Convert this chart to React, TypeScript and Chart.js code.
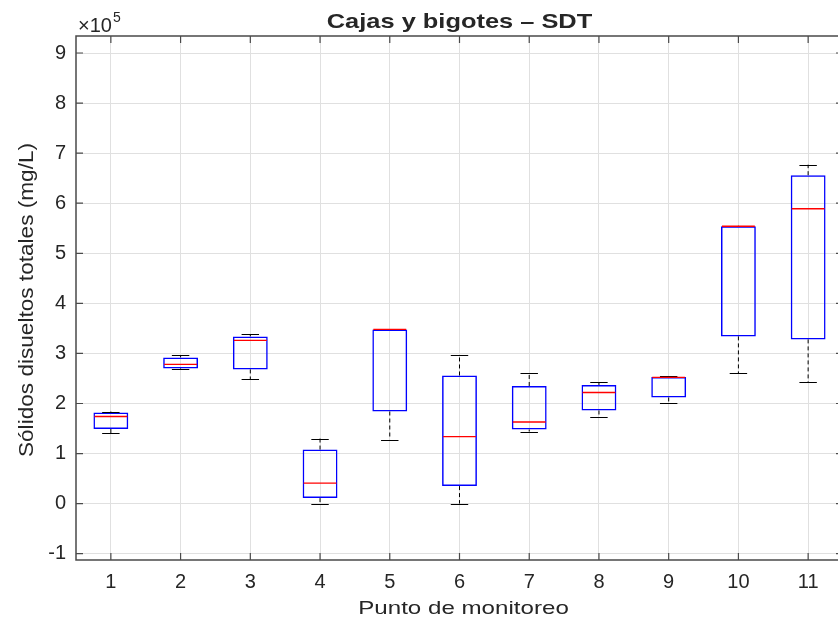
import React, { useEffect, useRef } from 'react';
import { Chart, registerables } from 'chart.js';

Chart.register(...registerables);

// ---- Data (values in units of 10^5 mg/L) ----
const categories = ['1', '2', '3', '4', '5', '6', '7', '8', '9', '10', '11'];
const q1 = [1.49, 2.70, 2.68, 0.11, 1.84, 0.35, 1.48, 1.86, 2.12, 3.34, 3.28];
const q3 = [1.82, 2.92, 3.34, 1.08, 3.48, 2.56, 2.35, 2.37, 2.53, 5.54, 6.56];
const medians = [1.74, 2.78, 3.26, 0.41, 3.48, 1.34, 1.63, 2.22, 2.52, 5.54, 5.89];
const whiskerLow = [1.41, 2.68, 2.48, 0.0, 1.28, 0.0, 1.44, 1.74, 2.0, 2.6, 2.42];
const whiskerHigh = [1.84, 2.96, 3.38, 1.3, 3.48, 2.96, 2.6, 2.42, 2.54, 5.55, 6.77];
const yTicks = [-1, 0, 1, 2, 3, 4, 5, 6, 7, 8, 9];

const titleText = 'Cajas y bigotes – SDT';
const xLabel = 'Punto de monitoreo';
const yLabel = 'Sólidos disueltos totales (mg/L)';

const FONT = '"Liberation Sans", Arial, Helvetica, sans-serif';
const TEXT = '#262626';

function stretchedText(ctx: any, text: string, x: number, y: number, font: string, sx: number) {
  ctx.save();
  ctx.font = font;
  ctx.textAlign = 'center';
  ctx.translate(x, y);
  ctx.scale(sx, 1);
  ctx.fillText(text, 0, 0);
  ctx.restore();
}

const extrasPlugin = {
  id: 'boxExtras',
  beforeDraw(chart: any) {
    const { ctx, width, height } = chart;
    ctx.save();
    ctx.fillStyle = '#ffffff';
    ctx.fillRect(0, 0, width, height);
    ctx.restore();
  },
  afterDatasetsDraw(chart: any) {
    const { ctx, chartArea } = chart;
    const x = chart.scales.x;
    const y = chart.scales.y;
    const step = x.getPixelForValue(1) - x.getPixelForValue(0);
    ctx.save();
    categories.forEach((_, i) => {
      const cx = x.getPixelForValue(i);
      const boxHalf = step * 0.25;
      const capHalf = step * 0.125;
      // dashed whiskers
      ctx.strokeStyle = '#000000';
      ctx.lineWidth = 1;
      ctx.setLineDash([4, 3]);
      ctx.beginPath();
      ctx.moveTo(cx, y.getPixelForValue(q3[i]));
      ctx.lineTo(cx, y.getPixelForValue(whiskerHigh[i]));
      ctx.moveTo(cx, y.getPixelForValue(q1[i]));
      ctx.lineTo(cx, y.getPixelForValue(whiskerLow[i]));
      ctx.stroke();
      ctx.setLineDash([]);
      // caps
      ctx.beginPath();
      const yh = Math.round(y.getPixelForValue(whiskerHigh[i])) + 0.5;
      const yl = Math.round(y.getPixelForValue(whiskerLow[i])) + 0.5;
      ctx.moveTo(cx - capHalf, yh);
      ctx.lineTo(cx + capHalf, yh);
      ctx.moveTo(cx - capHalf, yl);
      ctx.lineTo(cx + capHalf, yl);
      ctx.stroke();
      // median
      ctx.strokeStyle = '#ff0000';
      ctx.lineWidth = 1.3;
      const ym = y.getPixelForValue(medians[i]);
      ctx.beginPath();
      ctx.moveTo(cx - boxHalf + 1, ym);
      ctx.lineTo(cx + boxHalf - 1, ym);
      ctx.stroke();
    });

    // frame
    const { left, right, top, bottom } = chartArea;
    ctx.strokeStyle = '#4a4a4a';
    ctx.lineWidth = 1.5;
    ctx.beginPath();
    ctx.moveTo(left, top);
    ctx.lineTo(right, top);
    ctx.lineTo(right, bottom);
    ctx.lineTo(left, bottom);
    ctx.closePath();
    ctx.stroke();
    // inward ticks
    ctx.lineWidth = 1.2;
    const tl = 7;
    ctx.beginPath();
    categories.forEach((_, i) => {
      const px = x.getPixelForValue(i);
      ctx.moveTo(px, bottom);
      ctx.lineTo(px, bottom - tl);
      ctx.moveTo(px, top);
      ctx.lineTo(px, top + tl);
    });
    yTicks.forEach((v) => {
      const py = y.getPixelForValue(v);
      ctx.moveTo(left, py);
      ctx.lineTo(left + tl, py);
      ctx.moveTo(right, py);
      ctx.lineTo(right - tl, py);
    });
    ctx.stroke();
    ctx.restore();
  },
  afterDraw(chart: any) {
    const { ctx, chartArea } = chart;
    const cxMid = (chartArea.left + chartArea.right) / 2;
    const cyMid = (chartArea.top + chartArea.bottom) / 2;
    ctx.save();
    ctx.fillStyle = TEXT;
    ctx.textBaseline = 'alphabetic';

    // title
    stretchedText(ctx, titleText, cxMid, 28, `bold 21px ${FONT}`, 1.21);

    // x label
    stretchedText(ctx, xLabel, cxMid + 4, 614, `19px ${FONT}`, 1.27);

    // y label (rotated)
    ctx.save();
    ctx.translate(33, cyMid + 2);
    ctx.rotate(-Math.PI / 2);
    stretchedText(ctx, yLabel, 0, 0, `20px ${FONT}`, 1.13);
    ctx.restore();

    // exponent
    ctx.textAlign = 'left';
    ctx.font = `20px ${FONT}`;
    ctx.fillText('×10', 78, 32);
    ctx.font = `14px ${FONT}`;
    ctx.fillText('5', 113, 22);
    ctx.restore();
  },
};

export default function App() {
  const canvasRef = useRef<HTMLCanvasElement | null>(null);

  useEffect(() => {
    const canvas = canvasRef.current;
    if (!canvas) return;
    const chart = new Chart(canvas, {
      type: 'bar',
      data: {
        labels: categories,
        datasets: [
          {
            data: categories.map((_, i) => [q1[i], q3[i]]) as any,
            backgroundColor: 'rgba(0,0,0,0)',
            borderColor: '#0000ff',
            borderWidth: 1.5,
            borderSkipped: false,
            barPercentage: 0.5,
            categoryPercentage: 1,
          },
        ],
      },
      options: {
        responsive: false,
        animation: false,
        devicePixelRatio: 1,
        layout: { padding: { top: 36, left: 0, right: 0, bottom: 0 } },
        plugins: {
          legend: { display: false },
          title: { display: false },
          tooltip: { enabled: false },
        },
        scales: {
          x: {
            type: 'category',
            offset: true,
            grid: { offset: false, color: '#e0e0e0', lineWidth: 1, drawTicks: false },
            border: { display: false },
            ticks: {
              autoSkip: false,
              maxRotation: 0,
              padding: 10,
              color: TEXT,
              font: { family: FONT, size: 20 },
            },
            afterFit: (scale: any) => {
              scale.height = 57;
              scale.paddingLeft = 0;
              scale.paddingRight = 0;
            },
          },
          y: {
            type: 'linear',
            min: -1.126,
            max: 9.34,
            grid: { color: '#e0e0e0', lineWidth: 1, drawTicks: false },
            border: { display: false },
            afterBuildTicks: (scale: any) => {
              scale.ticks = yTicks.map((v) => ({ value: v }));
            },
            ticks: {
              padding: 10,
              color: TEXT,
              font: { family: FONT, size: 20 },
              callback: (v: any) => String(v),
            },
            afterFit: (scale: any) => {
              scale.width = 76;
              scale.paddingTop = 0;
              scale.paddingBottom = 0;
            },
          },
        },
      },
      plugins: [extrasPlugin],
    });
    return () => chart.destroy();
  }, []);

  return (
    <div
      style={{
        position: 'fixed',
        left: 0,
        top: 0,
        width: 838,
        height: 617,
        overflow: 'hidden',
        background: '#ffffff',
      }}
    >
      <canvas ref={canvasRef} width={843} height={617} style={{ display: 'block' }} />
    </div>
  );
}
